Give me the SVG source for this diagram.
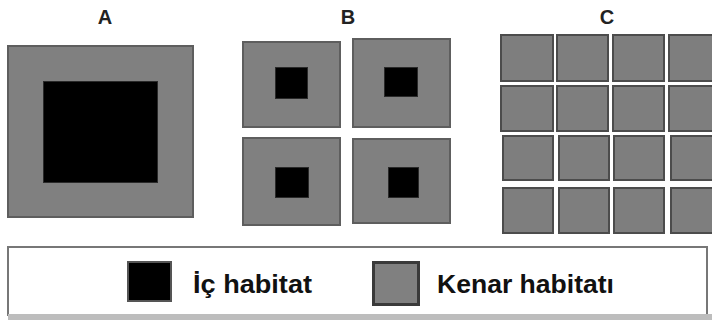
<svg xmlns="http://www.w3.org/2000/svg" width="712" height="327" viewBox="0 0 712 327">
  <style>
    .edge { fill: #808080; stroke: #5e5e5e; stroke-width: 2; }
    .cell { fill: #7e7e7e; stroke: #4c4c4c; stroke-width: 2; }
    .core { fill: #000; stroke: #2a2a2a; stroke-width: 1; }
    .title { font-family: "Liberation Sans", Arial, sans-serif; font-weight: bold; font-size: 20px; fill: #222; text-anchor: middle; }
    .key { font-family: "Liberation Sans", Arial, sans-serif; font-weight: bold; font-size: 25px; fill: #111; }
  </style>
  <rect width="712" height="327" fill="#fff"/>

  <!-- Panel A: one large patch -->
  <g id="panel-a">
    <text class="title" x="105" y="24">A</text>
    <rect class="edge" x="8" y="46" width="185" height="171"/>
    <rect class="core" x="43.5" y="81.5" width="114" height="101"/>
  </g>

  <!-- Panel B: four medium patches -->
  <g id="panel-b">
    <text class="title" x="348" y="24">B</text>
    <g id="b-tl">
      <rect class="edge" x="243" y="42" width="97" height="85"/>
      <rect class="core" x="275.5" y="67.5" width="32" height="31"/>
    </g>
    <g id="b-tr">
      <rect class="edge" x="353" y="39" width="97" height="88"/>
      <rect class="core" x="384.5" y="67.5" width="33" height="29"/>
    </g>
    <g id="b-bl">
      <rect class="edge" x="243" y="138" width="97" height="87"/>
      <rect class="core" x="275.5" y="167.5" width="33" height="30"/>
    </g>
    <g id="b-br">
      <rect class="edge" x="353" y="139" width="97" height="84"/>
      <rect class="core" x="388.5" y="167.5" width="30" height="30"/>
    </g>
  </g>

  <!-- Panel C: many small patches, edge habitat only -->
  <g id="panel-c">
    <text class="title" x="607" y="24">C</text>
    <g id="c-row1">
      <rect class="cell" x="501" y="35" width="52" height="46"/>
      <rect class="cell" x="557" y="35" width="51" height="46"/>
      <rect class="cell" x="613" y="35" width="51" height="46"/>
      <rect class="cell" x="669" y="35" width="50" height="46"/>
    </g>
    <g id="c-row2">
      <rect class="cell" x="501" y="86" width="52" height="45"/>
      <rect class="cell" x="557" y="86" width="51" height="45"/>
      <rect class="cell" x="613" y="86" width="51" height="45"/>
      <rect class="cell" x="669" y="86" width="50" height="45"/>
    </g>
    <g id="c-row3">
      <rect class="cell" x="503" y="136" width="50" height="44"/>
      <rect class="cell" x="559" y="136" width="50" height="44"/>
      <rect class="cell" x="614" y="136" width="50" height="44"/>
      <rect class="cell" x="671" y="136" width="48" height="44"/>
    </g>
    <g id="c-row4">
      <rect class="cell" x="503" y="188" width="50" height="45"/>
      <rect class="cell" x="559" y="188" width="50" height="45"/>
      <rect class="cell" x="614" y="188" width="50" height="45"/>
      <rect class="cell" x="671" y="188" width="48" height="45"/>
    </g>
  </g>

  <!-- Legend -->
  <g id="legend">
    <rect x="8" y="247" width="699" height="68" fill="#fff" stroke="#777" stroke-width="2"/>
    <rect x="8" y="314" width="704" height="6" fill="#bdbdbd"/>
    <g id="legend-core">
      <rect x="128" y="262" width="43" height="39" fill="#000" stroke="#555" stroke-width="2"/>
      <text class="key" x="193" y="293" textLength="119" lengthAdjust="spacingAndGlyphs">İç habitat</text>
    </g>
    <g id="legend-edge">
      <rect x="373.5" y="262.5" width="45" height="42" fill="#808080" stroke="#3a3a3a" stroke-width="3"/>
      <text class="key" x="437" y="293" textLength="177" lengthAdjust="spacingAndGlyphs">Kenar habitatı</text>
    </g>
  </g>
</svg>
